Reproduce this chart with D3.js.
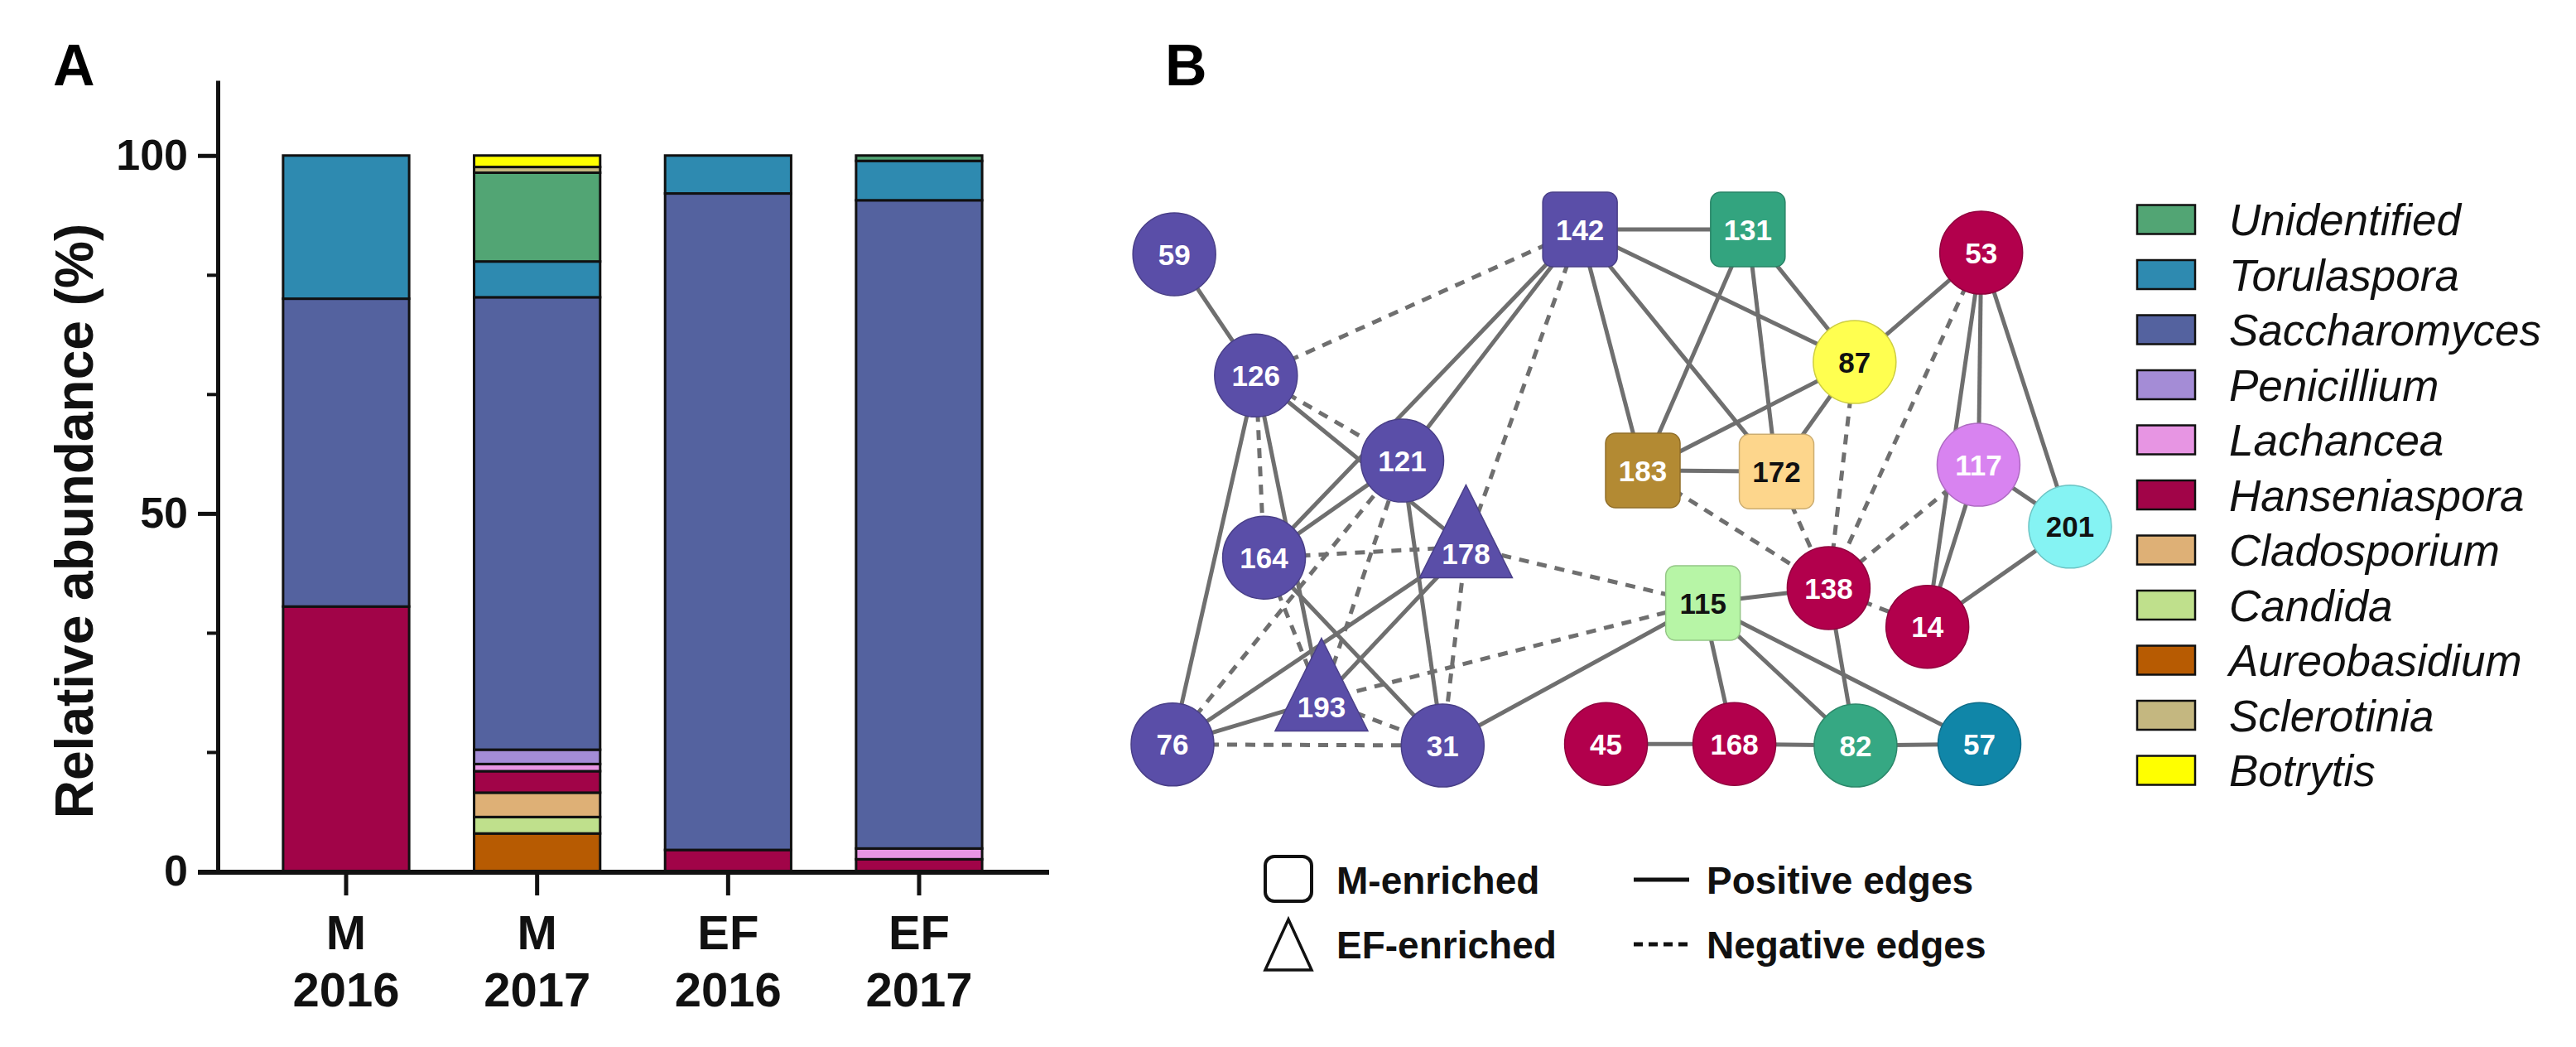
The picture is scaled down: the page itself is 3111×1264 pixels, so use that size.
<!DOCTYPE html>
<html><head><meta charset="utf-8">
<script src="https://cdn.jsdelivr.net/npm/d3@7"></script>
<style>html,body{margin:0;padding:0;background:#fff;} svg{display:block}</style>
</head><body>
<svg id="c" width="3111" height="1264"></svg>
<script>
// ---------------- DATA ----------------
const samples = ["M 2016", "M 2017", "EF 2016", "EF 2017"];
const sampleTop = ["M", "M", "EF", "EF"];
const sampleYear = ["2016", "2017", "2016", "2017"];
// stack order, bottom -> top
const genera = ["Aureobasidium","Candida","Cladosporium","Hanseniaspora","Lachancea","Penicillium","Saccharomyces","Torulaspora","Unidentified","Sclerotinia","Botrytis"];
const legendOrder = ["Unidentified","Torulaspora","Saccharomyces","Penicillium","Lachancea","Hanseniaspora","Cladosporium","Candida","Aureobasidium","Sclerotinia","Botrytis"];
const generaColors = ["#b75b02","#bfe08c","#deb076","#a10448","#e795e3","#a48cd6","#54629f","#2e8ab0","#52a574","#c4b780","#ffff00"];
// relative abundance (%) per sample, in genera order
const M2016  = [0, 0, 0, 37.0, 0, 0, 43.0, 20.0, 0, 0, 0];
const M2017  = [5.3, 2.3, 3.4, 3.0, 1.0, 2.0, 63.2, 5.0, 12.4, 0.8, 1.6];
const EF2016 = [0, 0, 0, 3.0, 0, 0, 91.7, 5.3, 0, 0, 0];
const EF2017 = [0, 0, 0, 1.7, 1.5, 0, 90.55, 5.5, 0.75, 0, 0];
const yMajorTicks = [0, 50, 100];
const yMinorTicks = [16.67, 33.33, 66.67, 83.33];

// network nodes: id, layout x (0-100), layout y (0-100), shape, colour, label colour
const nodeIds    = ["59","126","142","131","53","87","121","183","172","117","201","164","178","115","138","14","193","76","31","45","168","82","57"];
const nodeX      = [0.2, 9.3, 45.4, 64.1, 90.1, 76.0, 25.6, 52.4, 67.3, 89.8, 100, 10.2, 32.7, 59.1, 73.1, 84.1, 16.6, 0, 30.1, 48.3, 62.6, 76.1, 89.9];
const nodeY      = [4.8, 28.3, 0, 0, 4.5, 25.7, 44.8, 46.7, 46.9, 45.6, 57.6, 63.6, 61.5, 72.4, 69.5, 77.0, 91.2, 99.8, 100, 99.7, 99.7, 100, 99.7];
const nodeShape  = ["c","c","s","s","c","c","c","s","s","c","c","c","t","s","c","c","t","c","c","c","c","c","c"];
const nodeFill   = ["#5a4ea8","#5a4ea8","#5a4ea8","#33a47f","#b2004c","#ffff50","#5a4ea8","#b38a33","#fdd68c","#d883f0","#85f3f3","#5a4ea8","#5a4ea8","#b7f5a6","#b2004c","#b2004c","#5a4ea8","#5a4ea8","#5a4ea8","#b2004c","#b2004c","#36a883","#1086a8"];
const nodeText   = ["#fff","#fff","#fff","#fff","#fff","#111","#fff","#fff","#111","#fff","#111","#fff","#fff","#111","#fff","#fff","#fff","#fff","#fff","#fff","#fff","#fff","#fff"];

const positiveEdges = [["59","126"],["126","76"],["126","193"],["126","178"],["142","131"],["142","87"],["142","172"],["142","183"],["142","121"],["142","164"],["164","121"],["164","31"],["121","31"],["76","178"],["76","193"],["193","178"],["31","115"],["131","183"],["131","172"],["131","87"],["87","183"],["87","172"],["87","53"],["183","172"],["53","117"],["53","14"],["53","201"],["117","201"],["117","14"],["14","201"],["115","138"],["115","168"],["115","82"],["115","57"],["138","82"],["45","168"],["168","82"],["82","57"]];
const negativeEdges = [["126","142"],["126","164"],["126","121"],["142","178"],["164","178"],["164","193"],["76","121"],["76","31"],["193","121"],["193","31"],["178","31"],["178","115"],["193","115"],["87","138"],["53","138"],["117","138"],["172","138"],["183","138"],["138","14"]];

const shapeLegend = ["M-enriched", "EF-enriched"];
const edgeLegend = ["Positive edges", "Negative edges"];

// ---------------- DRAW ----------------
const svg = d3.select("#c");
const FONT = "'Liberation Sans', Arial, Helvetica, sans-serif";

// Panel A
const table = samples.map((s, i) => {
  const vals = [M2016, M2017, EF2016, EF2017][i];
  const row = {sample: s};
  genera.forEach((g, j) => row[g] = vals[j]);
  return row;
});
const stack = d3.stack().keys(genera)(table);
const color = d3.scaleOrdinal().domain(genera).range(generaColors);

const x = d3.scaleBand().domain(samples).range([302.67, 1225.33]).paddingInner(0.34).paddingOuter(0.17);
const y = d3.scaleLinear().domain([0, 110.5]).range([1052, 97]);
const axisX = 263;

const gA = svg.append("g");
gA.selectAll("g.layer").data(stack).join("g").attr("class","layer")
  .attr("fill", d => color(d.key))
  .selectAll("rect").data(d => d.filter(p => p[1] - p[0] > 0)).join("rect")
  .attr("x", d => x(d.data.sample))
  .attr("width", x.bandwidth())
  .attr("y", d => y(d[1]))
  .attr("height", d => y(d[0]) - y(d[1]))
  .attr("stroke", "#111").attr("stroke-width", 3);

// y axis
const yAxisG = gA.append("g").attr("transform", `translate(${axisX},0)`)
  .call(d3.axisLeft(y).tickValues(yMajorTicks).tickSize(24).tickSizeOuter(0).tickPadding(12));
yAxisG.select(".domain").attr("stroke", "#111").attr("stroke-width", 5);
yAxisG.selectAll(".tick line").attr("stroke", "#111").attr("stroke-width", 5);
yAxisG.selectAll(".tick text").attr("font-family", FONT).attr("font-weight", "bold").attr("font-size", 52).attr("fill", "#111");
const yMinorG = gA.append("g").attr("transform", `translate(${axisX},0)`)
  .call(d3.axisLeft(y).tickValues(yMinorTicks).tickSize(13).tickFormat(""));
yMinorG.select(".domain").remove();
yMinorG.selectAll(".tick line").attr("stroke", "#111").attr("stroke-width", 4);

// x axis
gA.append("line").attr("x1", axisX - 24).attr("x2", 1267).attr("y1", y(0) + 1).attr("y2", y(0) + 1)
  .attr("stroke", "#111").attr("stroke-width", 6);
const xAxisG = gA.append("g").attr("transform", `translate(0,${y(0) + 1})`)
  .call(d3.axisBottom(x).tickSize(28).tickFormat(""));
xAxisG.select(".domain").remove();
xAxisG.selectAll(".tick line").attr("stroke", "#111").attr("stroke-width", 5);
samples.forEach((s, i) => {
  const cx = x(s) + x.bandwidth() / 2;
  const t = gA.append("text").attr("text-anchor", "middle").attr("font-family", FONT)
    .attr("font-weight", "bold").attr("font-size", 58).attr("fill", "#111");
  t.append("tspan").attr("x", cx).attr("y", 1146).text(sampleTop[i]);
  t.append("tspan").attr("x", cx).attr("y", 1215).text(sampleYear[i]);
});
gA.append("text").attr("transform", "translate(112,629) rotate(-90)").attr("text-anchor", "middle")
  .attr("font-family", FONT).attr("font-weight", "bold").attr("font-size", 64).attr("fill", "#111")
  .text("Relative abundance (%)");
svg.append("text").attr("x", 64).attr("y", 103).attr("font-family", FONT).attr("font-weight", "bold")
  .attr("font-size", 70).attr("fill", "#000").text("A");
svg.append("text").attr("x", 1407).attr("y", 103).attr("font-family", FONT).attr("font-weight", "bold")
  .attr("font-size", 70).attr("fill", "#000").text("B");

// Panel B network
const nx = d3.scaleLinear().domain([0, 100]).range([1416, 2500]);
const ny = d3.scaleLinear().domain([0, 100]).range([277, 900]);
const nodes = nodeIds.map((id, i) => ({id, x: nx(nodeX[i]), y: ny(nodeY[i]), shape: nodeShape[i], fill: nodeFill[i], tc: nodeText[i]}));
const byId = new Map(nodes.map(n => [n.id, n]));
const gB = svg.append("g");
const edges = positiveEdges.map(e => ({s: e[0], t: e[1], neg: false}))
  .concat(negativeEdges.map(e => ({s: e[0], t: e[1], neg: true})));
gB.selectAll("line.edge").data(edges).join("line").attr("class", "edge")
  .attr("x1", d => byId.get(d.s).x).attr("y1", d => byId.get(d.s).y)
  .attr("x2", d => byId.get(d.t).x).attr("y2", d => byId.get(d.t).y)
  .attr("stroke", "#6f6f6f").attr("stroke-width", 5)
  .attr("stroke-dasharray", d => d.neg ? "12,10" : null);

const R = 50, SQ = 90, TH = 112;
const ng = gB.selectAll("g.node").data(nodes).join("g").attr("class", "node")
  .attr("transform", d => `translate(${d.x},${d.y})`);
ng.each(function(d) {
  const g = d3.select(this);
  let el;
  if (d.shape === "c") el = g.append("circle").attr("r", R);
  else if (d.shape === "s") el = g.append("rect").attr("x", -SQ/2).attr("y", -SQ/2).attr("width", SQ).attr("height", SQ).attr("rx", 12);
  else el = g.append("path").attr("d", `M0,${-TH*2/3}L${TH/2},${TH/3}L${-TH/2},${TH/3}Z`);
  el.attr("fill", d.fill).attr("stroke", d3.color(d.fill).darker(0.6)).attr("stroke-width", 1.5);
  g.append("text").attr("text-anchor", "middle").attr("dy", d.shape === "t" ? "0.6em" : "0.36em")
    .attr("font-family", FONT).attr("font-weight", "bold").attr("font-size", 35)
    .attr("fill", d.tc).text(d.id);
});

// right legend
const lg = svg.append("g");
legendOrder.forEach((g, i) => {
  const cy = 265 + i * 66.5;
  lg.append("rect").attr("x", 2581).attr("y", cy - 17.5).attr("width", 70).attr("height", 35)
    .attr("fill", color(g)).attr("stroke", "#111").attr("stroke-width", 2.5);
  lg.append("text").attr("x", 2692).attr("y", cy).attr("dy", "0.36em").attr("font-family", FONT)
    .attr("font-style", "italic").attr("font-size", 53).attr("fill", "#111").text(g);
});

// bottom legend of B
const bl = svg.append("g").attr("font-family", FONT).attr("font-weight", "bold").attr("font-size", 46).attr("fill", "#111");
bl.append("rect").attr("x", 1528).attr("y", 1034).attr("width", 56).attr("height", 54).attr("rx", 11)
  .attr("fill", "#fff").attr("stroke", "#111").attr("stroke-width", 4);
bl.append("path").attr("d", "M1556,1110L1584,1171L1528,1171Z").attr("fill", "#fff").attr("stroke", "#111").attr("stroke-width", 3.5);
bl.append("text").attr("x", 1614).attr("y", 1062).attr("dy", "0.36em").text(shapeLegend[0]);
bl.append("text").attr("x", 1614).attr("y", 1140).attr("dy", "0.36em").text(shapeLegend[1]);
bl.append("line").attr("x1", 1973).attr("x2", 2040).attr("y1", 1062).attr("y2", 1062).attr("stroke", "#111").attr("stroke-width", 5);
bl.append("line").attr("x1", 1973).attr("x2", 2040).attr("y1", 1140).attr("y2", 1140).attr("stroke", "#111").attr("stroke-width", 5).attr("stroke-dasharray", "11,7");
bl.append("text").attr("x", 2061).attr("y", 1062).attr("dy", "0.36em").text(edgeLegend[0]);
bl.append("text").attr("x", 2061).attr("y", 1140).attr("dy", "0.36em").text(edgeLegend[1]);
</script>
</body></html>
